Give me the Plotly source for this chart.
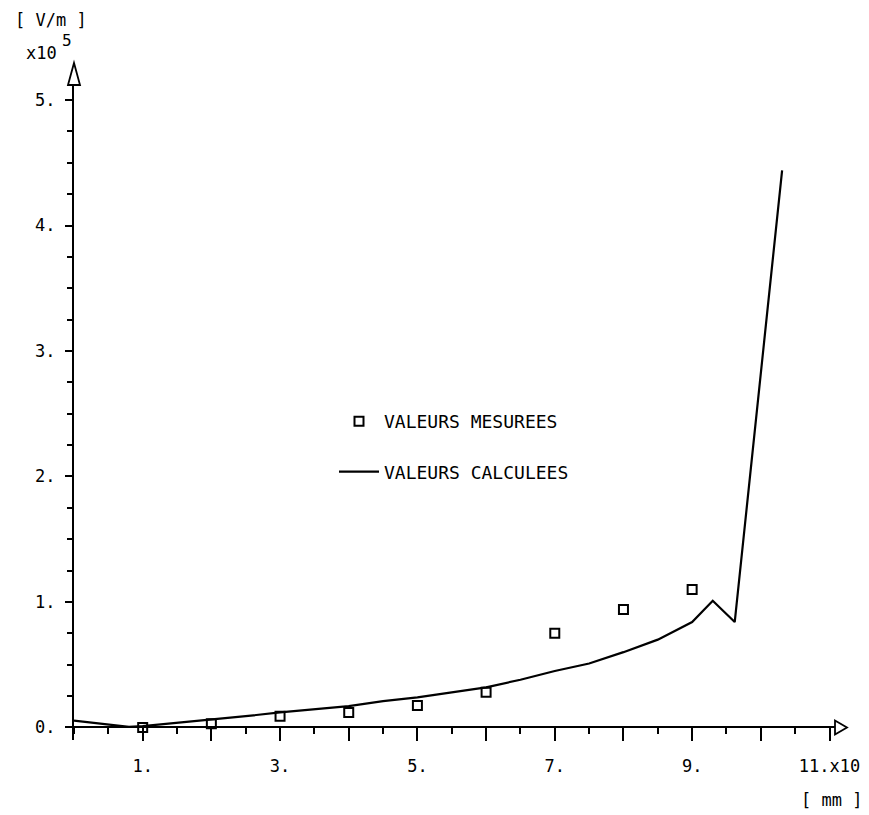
import plotly.graph_objects as go

# Measured values (x10 mm, x1e5 V/m)
x_mes = [1, 2, 3, 4, 5, 6, 7, 8, 9]
y_mes = [0.0, 0.03, 0.09, 0.12, 0.175, 0.28, 0.75, 0.94, 1.10]

# Calculated values
x_calc = [0.0, 0.5, 0.8, 1.0, 1.5, 2.0, 2.5, 3.0, 3.5, 4.0, 4.5, 5.0, 5.5, 6.0,
          6.5, 7.0, 7.5, 8.0, 8.5, 9.0, 9.3, 9.62, 10.31]
y_calc = [0.055, 0.02, 0.005, 0.01, 0.035, 0.065, 0.09, 0.12, 0.145, 0.17, 0.21,
          0.24, 0.28, 0.32, 0.38, 0.45, 0.51, 0.60, 0.70, 0.84, 1.01, 0.84, 4.44]

x_tickvals = [1, 2, 3, 4, 5, 6, 7, 8, 9, 10, 11]
x_ticktext = ["1.", "", "3.", "", "5.", "", "7.", "", "9.", "", "11.x10"]
y_tickvals = [0, 1, 2, 3, 4, 5]
y_ticktext = ["0.", "1.", "2.", "3.", "4.", "5."]

X_RANGE = [0, 11.08]
Y_RANGE = [-0.1, 5.12]

FONT = "DejaVu Sans Mono"

# page body has an 8px margin; work in window pixels and compensate
OFF = 8
W, H = 869 - OFF, 815 - OFF
L, T = 74 - OFF, 85 - OFF
R = W - (835 - OFF)
B = H - (739.6 - OFF)

pw = W - L - R
ph = H - T - B

def px(xp):
    return (xp - OFF - L) / pw

def py(yp):
    return (H - B - (yp - OFF)) / ph

zero_pos = (0 - Y_RANGE[0]) / (Y_RANGE[1] - Y_RANGE[0])

fig = go.Figure()

fig.add_trace(go.Scatter(
    x=x_mes, y=y_mes, mode="markers", name="VALEURS MESUREES",
    marker=dict(symbol="square-open", size=9, color="black", line=dict(width=2, color="black")),
    legendgroup="a",
))
fig.add_trace(go.Scatter(
    x=x_calc, y=y_calc, mode="lines", name="VALEURS CALCULEES",
    line=dict(color="black", width=2.2),
    legendgroup="b",
))

# axis arrow heads (open triangles), sized in pixels at the axis ends
fig.add_shape(type="path", xref="paper", yref="paper", xsizemode="pixel", ysizemode="pixel",
              xanchor=0, yanchor=1, path="M -6,0 L 0,22 L 6,0 Z",
              line=dict(color="black", width=1.8), fillcolor="white")
fig.add_shape(type="path", xref="paper", yref="paper", xsizemode="pixel", ysizemode="pixel",
              xanchor=1, yanchor=zero_pos, path="M 0,-7 L 12,0 L 0,7 Z",
              line=dict(color="black", width=1.8), fillcolor="white")

fig.update_layout(
    width=W, height=H,
    margin=dict(l=L, r=R, t=T, b=B, autoexpand=False),
    paper_bgcolor="white", plot_bgcolor="white",
    font=dict(family=FONT, size=17, color="black"),
    showlegend=True,
    legend=dict(
        x=px(334), y=0.5146, xanchor="left", yanchor="top",
        bgcolor="rgba(0,0,0,0)", font=dict(family=FONT, size=18),
        tracegroupgap=24, itemwidth=40,
    ),
    xaxis=dict(
        range=X_RANGE, showgrid=False, zeroline=False, automargin=False,
        showline=True, linecolor="black", linewidth=2,
        anchor="free", position=zero_pos,
        tickmode="array", tickvals=x_tickvals, ticktext=x_ticktext,
        ticks="outside", ticklen=13, tickwidth=2, tickcolor="black",
        ticklabelstandoff=10,
        minor=dict(tickmode="linear", tick0=0, dtick=0.5, ticks="outside",
                   ticklen=6, tickwidth=2, tickcolor="black", showgrid=False),
    ),
    yaxis=dict(
        range=Y_RANGE, showgrid=False, zeroline=False, automargin=False,
        showline=True, linecolor="black", linewidth=2,
        tickmode="array", tickvals=y_tickvals, ticktext=y_ticktext,
        ticks="outside", ticklen=7, tickwidth=2, tickcolor="black",
        ticklabelstandoff=6,
        minor=dict(tickmode="linear", tick0=0, dtick=0.25, ticks="outside",
                   ticklen=5, tickwidth=2, tickcolor="black", showgrid=False),
    ),
)

fig.add_annotation(text="[ V/m ]", x=px(13), y=py(20), xref="paper", yref="paper",
                   xanchor="left", yanchor="middle", showarrow=False,
                   font=dict(family=FONT, size=17))
fig.add_annotation(text="x10", x=px(24), y=py(53), xref="paper", yref="paper",
                   xanchor="left", yanchor="middle", showarrow=False,
                   font=dict(family=FONT, size=17))
fig.add_annotation(text="5", x=px(67), y=py(41), xref="paper", yref="paper",
                   xanchor="center", yanchor="middle", showarrow=False,
                   font=dict(family=FONT, size=16))
fig.add_annotation(text="[ mm ]", x=px(831), y=py(800), xref="paper", yref="paper",
                   xanchor="center", yanchor="middle", showarrow=False,
                   font=dict(family=FONT, size=17))

fig.write_html("out.html")
